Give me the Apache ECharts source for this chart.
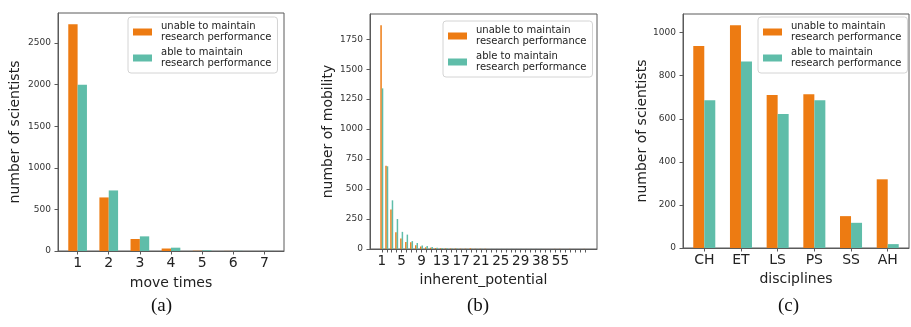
<!DOCTYPE html>
<html>
<head>
<meta charset="utf-8">
<script src="https://cdn.jsdelivr.net/npm/echarts@6/dist/echarts.min.js"></script>
<style>
  html, body { margin: 0; padding: 0; background: #fff; }
  #main { width: 911px; height: 327px; }
</style>
</head>
<body>
<div id="main"></div>
<script>
const seriesNames = ["unable to maintain\nresearch performance", "able to maintain\nresearch performance"];

// (a) move times
const moveTimes = ["1", "2", "3", "4", "5", "6", "7"];
const moveUnable = [2725, 644, 144, 30, 3, 1, 0];
const moveAble = [2000, 728, 176, 40, 8, 2, 1];
const moveTicks = [0, 500, 1000, 1500, 2000, 2500];

// (b) inherent_potential
const potential = [1, 2, 3, 4, 5, 6, 7, 8, 9, 10, 11, 12, 13, 14, 15, 16, 17, 18, 19, 20,
  21, 22, 23, 24, 25, 26, 27, 28, 29, 30, 31, 33, 38, 41, 45, 50, 55, 58, 63, 70, 80, 96];
const potentialUnable = [1867, 695, 330, 140, 87, 58, 56, 32, 20, 14, 11, 8, 6, 5, 4, 4, 3, 3, 6, 2,
  2, 2, 1, 1, 1, 1, 1, 1, 1, 1, 1, 1, 1, 1, 0, 1, 1, 0, 1, 0, 0, 1];
const potentialAble = [1340, 690, 406, 250, 143, 120, 66, 50, 30, 26, 16, 10, 8, 6, 5, 4, 3, 3, 2, 2,
  2, 1, 1, 1, 1, 1, 1, 1, 1, 1, 1, 1, 1, 0, 1, 0, 1, 1, 0, 1, 0, 1];
const potentialTicks = [0, 250, 500, 750, 1000, 1250, 1500, 1750];
const potentialLabels = [1, 5, 9, 13, 17, 21, 25, 29, 38, 55];

// (c) disciplines
const disciplines = ["CH", "ET", "LS", "PS", "SS", "AH"];
const discUnable = [938, 1035, 711, 714, 148, 319];
const discAble = [686, 866, 622, 686, 117, 18];
const discTicks = [0, 200, 400, 600, 800, 1000];

const panelTags = ["(a)", "(b)", "(c)"];

const ORANGE = "#ED7B12";
const TEAL = "#5FBDA9";
const FONT = "DejaVu Sans";

const panels = [
  { rect: [58, 13, 226, 238], cats: moveTimes, unable: moveUnable, able: moveAble, yTicks: moveTicks,
    labels: moveTimes, xName: "move times", yName: "number of scientists", xGap: 25, yGap: 36,
    legend: [128, 17], xFont: 14, tagX: 163 },
  { rect: [370, 14, 227, 235], cats: potential, unable: potentialUnable, able: potentialAble, yTicks: potentialTicks,
    labels: potentialLabels, xName: "inherent_potential", yName: "number of mobility", xGap: 23, yGap: 35,
    legend: [443, 21], xFont: 13.5, tagX: 479 },
  { rect: [683, 14, 226, 234], cats: disciplines, unable: discUnable, able: discAble, yTicks: discTicks,
    labels: disciplines, xName: "disciplines", yName: "number of scientists", xGap: 24, yGap: 34,
    legend: [758, 17], xFont: 14, tagX: 790 }
];

const grid = [], xAxis = [], yAxis = [], series = [], legend = [], graphic = [];

panels.forEach((p, k) => {
  const n = p.cats.length;
  const span = n - 1 + 0.6;
  const xMin = -0.3 - 0.05 * span;
  const xMax = n - 1 + 0.3 + 0.05 * span;
  const barPx = p.rect[2] / (xMax - xMin) * 0.3;
  const yMax = Math.max(...p.unable, ...p.able) * 1.05;
  const idx = p.cats.map((c, i) => i);
  const labelIdx = p.labels.map(l => p.cats.indexOf(l));

  grid.push({
    left: p.rect[0], top: p.rect[1], width: p.rect[2], height: p.rect[3],
    show: true, borderColor: "#5a5a5a", borderWidth: 1, backgroundColor: "transparent"
  });

  xAxis.push({
    gridIndex: k, type: "value", min: xMin, max: xMax,
    name: p.xName, nameLocation: "middle", nameGap: p.xGap,
    nameTextStyle: { fontFamily: FONT, fontSize: 14, color: "#222" },
    axisLine: { show: true, onZero: false, lineStyle: { color: "#5a5a5a" } },
    axisTick: { show: true, length: 3.5, lineStyle: { color: "#5a5a5a" }, customValues: idx },
    axisLabel: {
      margin: 5, fontFamily: FONT, fontSize: p.xFont, color: "#222",
      customValues: labelIdx,
      formatter: v => String(p.cats[Math.round(v)])
    },
    splitLine: { show: false }
  });

  yAxis.push({
    gridIndex: k, type: "value", min: 0, max: yMax,
    name: p.yName, nameLocation: "middle", nameGap: p.yGap,
    nameTextStyle: { fontFamily: FONT, fontSize: 14, color: "#222" },
    axisLine: { show: true, onZero: false, lineStyle: { color: "#5a5a5a" } },
    axisTick: { show: true, length: 3.5, lineStyle: { color: "#5a5a5a" }, customValues: p.yTicks },
    axisLabel: {
      margin: 7, fontFamily: FONT, fontSize: 9, color: "#333", customValues: p.yTicks,
      formatter: v => String(Math.round(v))
    },
    splitLine: { show: false }
  });

  [p.unable, p.able].forEach((vals, s) => {
    series.push({
      name: seriesNames[s], type: "bar", xAxisIndex: k, yAxisIndex: k,
      data: vals.map((v, i) => [i, v]),
      barWidth: barPx, barGap: "0%",
      itemStyle: { color: s === 0 ? ORANGE : TEAL },
      silent: true
    });
  });

  legend.push({
    left: p.legend[0], top: p.legend[1], orient: "vertical",
    data: seriesNames, icon: "rect", itemWidth: 19, itemHeight: 7, itemGap: 4,
    padding: [4, 6, 4, 5], backgroundColor: "#fff", borderColor: "#d4d4d4", borderWidth: 1, borderRadius: 3,
    textStyle: { fontFamily: FONT, fontSize: 10, lineHeight: 11, color: "#222", padding: [0, 0, 0, 4] },
    selectedMode: false
  });

  graphic.push({
    type: "text", left: p.tagX - 12, top: 297,
    style: { text: panelTags[k], font: "19px 'Liberation Serif'", fill: "#111" }
  });
});

const chart = echarts.init(document.getElementById("main"), null, { renderer: "canvas" });
chart.setOption({
  animation: false,
  backgroundColor: "#fff",
  grid, xAxis, yAxis, series, legend, graphic
});
</script>
</body>
</html>
